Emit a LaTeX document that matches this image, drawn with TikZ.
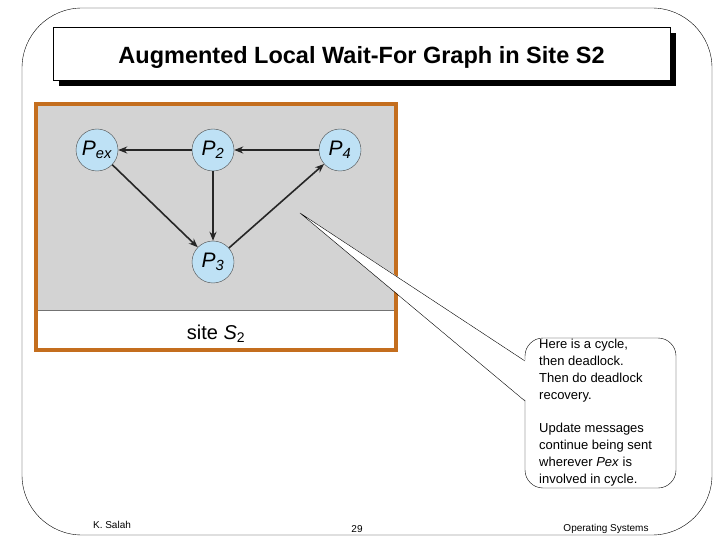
\documentclass[tikz,border=0pt]{standalone}
\usepackage{fontspec}
\setmainfont{Liberation Sans}
\usetikzlibrary{arrows.meta}
\definecolor{procblue}{RGB}{190,225,245}
\definecolor{sitegray}{RGB}{211,211,211}
\definecolor{frameorange}{RGB}{196,110,30}
\newcommand{\procname}[1]{\textit{P}\textsubscript{\itshape #1}}
\tikzset{
  x=1pt, y=-1pt,
  proc/.style={circle, draw=black!70, fill=procblue, minimum size=42pt, inner sep=0pt, font=\fontsize{21}{22}\selectfont},
  edgearrow/.style={-{Stealth[length=9pt,width=7pt]}, line width=1.6pt, black!85},
  note/.style={font=\fontsize{13}{17}\selectfont, align=left, anchor=north west, inner sep=0pt}
}
\begin{document}
\begin{tikzpicture}
  \useasboundingbox (0,0) rectangle (720,540);
  % slide frame
  \draw[rounded corners=60pt] (22,8) rectangle (712,535);
  % title box
  \fill[black] (59,33) rectangle (676,86);
  \draw[fill=white] (53,27) rectangle (670,80);
  \node (title) at (361.5,57) {\fontsize{23.5}{26}\selectfont\bfseries Augmented Local Wait-For Graph in Site S2};
  % site box
  \fill[sitegray] (36,104) rectangle (396,310);
  \draw[black!55, line width=1pt] (36,310) -- (396,310);
  \draw[frameorange, line width=3.5pt] (36,104) rectangle (396,350);
  \node (site) at (216,334) {\fontsize{20}{22}\selectfont site \textit{S}\textsubscript{2}};
  % processes
  \node[proc] (pex) at (97,150) {\procname{ex}};
  \node[proc] (p2) at (213,150) {\procname{2}};
  \node[proc] (p4) at (340,150) {\procname{4}};
  \node[proc] (p3) at (213,262) {\procname{3}};
  \draw[edgearrow] (p2) -- (pex);
  \draw[edgearrow] (p4) -- (p2);
  \draw[edgearrow] (p2) -- (p3);
  \draw[edgearrow] (pex) -- (p3);
  \draw[edgearrow] (p3) -- (p4);
  % callout
  \coordinate (tip) at (300,213);
  \draw[fill=white, rounded corners=18pt] (525,338) rectangle (676,488);
  \fill[white] (tip) -- (527,361) -- (527,401) -- cycle;
  \draw (525,361) -- (tip) -- (525,401);
  \node[note] (cycle) at (539,339) {Here is a cycle,\\then deadlock.\\Then do deadlock\\recovery.};
  \node[note] (update) at (539,423) {Update messages\\continue being sent\\wherever \textit{Pex} is\\involved in cycle.};
  % footer
  \node (author) at (112,525) {\fontsize{10}{12}\selectfont K. Salah};
  \node (page) at (357,529) {\fontsize{10}{12}\selectfont 29};
  \node (course) at (606,529) {\fontsize{10}{12}\selectfont Operating Systems};
\end{tikzpicture}
\end{document}
